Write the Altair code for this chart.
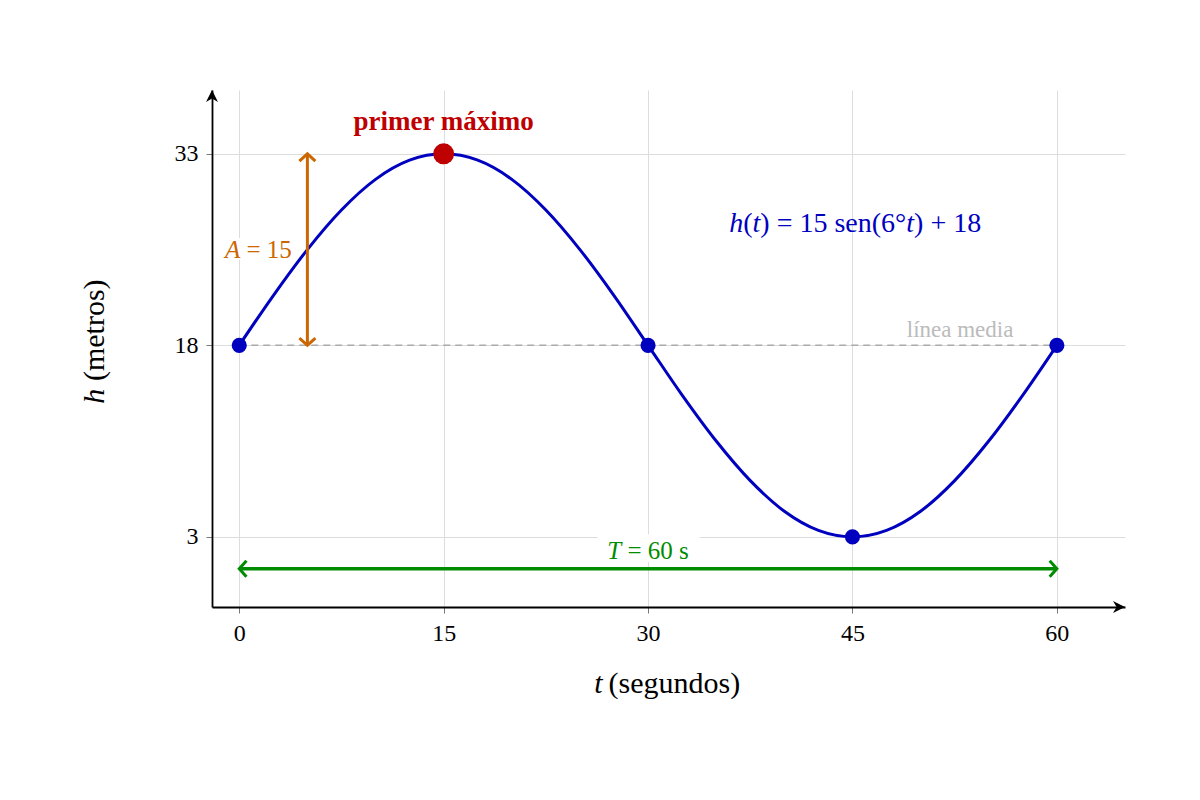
import pandas as pd
import altair as alt

# values
t_curve = [0, 2.5, 5, 7.5, 10, 12.5, 15, 17.5, 20, 22.5, 25, 27.5, 30,
           32.5, 35, 37.5, 40, 42.5, 45, 47.5, 50, 52.5, 55, 57.5, 60]
h_curve = [18.0, 21.9, 25.5, 28.6, 31.0, 32.5, 33.0, 32.5, 31.0, 28.6, 25.5, 21.9, 18.0,
           14.1, 10.5, 7.4, 5.0, 3.5, 3.0, 3.5, 5.0, 7.4, 10.5, 14.1, 18.0]
key_t = [0, 30, 45, 60]
key_h = [18, 18, 3, 18]
max_t = [15]
max_h = [33]
midline_h = 18
amp_t = 5          # where the amplitude arrow stands
period_h = 0.5     # height of the period arrow
x_ticks = [0, 15, 30, 45, 60]
y_ticks = [3, 18, 33]

FONT = "Liberation Serif"
BLUE = "#0000BF"
RED = "#BF0000"
ORANGE = "#CC6600"
GREEN = "#008C00"
PX = 913 / 67   # pixels per second on the x axis

xs = alt.Scale(domain=[-2, 65], nice=False, zero=False)
ys = alt.Scale(domain=[-2.5, 38], nice=False, zero=False)

x_axis = alt.Axis(values=x_ticks, format="d", title=None, grid=True, gridColor="#DDDDDD",
                  domainColor="black", domainWidth=1.8, tickColor="#777777", tickSize=6,
                  labelFont=FONT, labelFontSize=24, labelColor="black", labelPadding=8)
y_axis = alt.Axis(values=y_ticks, format="d", title=None, grid=True, gridColor="#DDDDDD",
                  domainColor="black", domainWidth=1.8, tickColor="#777777", tickSize=6,
                  labelFont=FONT, labelFontSize=24, labelColor="black", labelPadding=8)


def X(f):
    return alt.X(f"{f}:Q", scale=xs, axis=x_axis)


def Y(f):
    return alt.Y(f"{f}:Q", scale=ys, axis=y_axis)


curve_df = pd.DataFrame({"t": t_curve, "h": h_curve})
key_df = pd.DataFrame({"t": key_t, "h": key_h})
max_df = pd.DataFrame({"t": max_t, "h": max_h})

# white boxes behind labels
boxes = alt.Chart(pd.DataFrame({
    "x": [-1.4, 26.3], "x2": [4.4, 33.8], "y": [24.7, 1.0], "y2": [26.4, 3.2]
})).mark_rect(color="white").encode(x=X("x"), x2="x2", y=Y("y"), y2="y2")

midline = alt.Chart(pd.DataFrame({"t": [0], "t2": [60], "h": [midline_h]})).mark_rule(
    color="#AAAAAA", strokeWidth=1.5, strokeDash=[7, 5]
).encode(x=X("t"), x2="t2", y=Y("h"))

curve = alt.Chart(curve_df).mark_line(color=BLUE, strokeWidth=3, interpolate="monotone").encode(
    x=X("t"), y=Y("h"))

dots = alt.Chart(key_df).mark_circle(color=BLUE, size=230, opacity=1).encode(x=X("t"), y=Y("h"))
top_dot = alt.Chart(max_df).mark_circle(color=RED, size=440, opacity=1).encode(x=X("t"), y=Y("h"))

# amplitude arrow
amp = alt.Chart(pd.DataFrame({"t": [amp_t], "h": [midline_h], "h2": [max_h[0]]})).mark_rule(
    color=ORANGE, strokeWidth=3).encode(x=X("t"), y=Y("h"), y2="h2")
amp_up = alt.Chart(pd.DataFrame({"t": [amp_t], "h": [max_h[0]]})).mark_point(
    shape="M-1,0.9L0,0L1,0.9", filled=False, color=ORANGE, strokeWidth=3, size=256, opacity=1
).encode(x=X("t"), y=Y("h"))
amp_dn = alt.Chart(pd.DataFrame({"t": [amp_t], "h": [midline_h]})).mark_point(
    shape="M-1,-0.9L0,0L1,-0.9", filled=False, color=ORANGE, strokeWidth=3, size=256, opacity=1
).encode(x=X("t"), y=Y("h"))

# period arrow
per = alt.Chart(pd.DataFrame({"t": [0], "t2": [60], "h": [period_h]})).mark_rule(
    color=GREEN, strokeWidth=3.5).encode(x=X("t"), x2="t2", y=Y("h"))
per_r = alt.Chart(pd.DataFrame({"t": [60], "h": [period_h]})).mark_point(
    shape="M-0.9,-1L0,0L-0.9,1", filled=False, color=GREEN, strokeWidth=3, size=256, opacity=1
).encode(x=X("t"), y=Y("h"))
per_l = alt.Chart(pd.DataFrame({"t": [0], "h": [period_h]})).mark_point(
    shape="M0.9,-1L0,0L0.9,1", filled=False, color=GREEN, strokeWidth=3, size=256, opacity=1
).encode(x=X("t"), y=Y("h"))

# axis arrow tips
ax_r = alt.Chart(pd.DataFrame({"t": [65], "h": [-2.5]})).mark_point(
    shape="M0,0L-1,-0.5L-0.7,0L-1,0.5Z", filled=True, color="black", size=576, opacity=1
).encode(x=X("t"), y=Y("h"))
ax_u = alt.Chart(pd.DataFrame({"t": [-2], "h": [38]})).mark_point(
    shape="M0,0L0.5,1L0,0.7L-0.5,1Z", filled=True, color="black", size=576, opacity=1
).encode(x=X("t"), y=Y("h"))


def label(text, t, h, color, size, align="center", weight="normal", style="normal", angle=0):
    return alt.Chart(pd.DataFrame({"t": [t], "h": [h], "s": [text]})).mark_text(
        font=FONT, fontSize=size, color=color, align=align, baseline="middle",
        fontWeight=weight, fontStyle=style, angle=angle
    ).encode(x=X("t"), y=Y("h"), text="s:N")


# Times-compatible advance widths (em) for the math labels
ROMAN_W = {"(": .333, ")": .333, "=": .564, "+": .564, " ": .25, "s": .389, "e": .444,
           "n": .5, "°": .4}
ITALIC_W = {"h": .5, "t": .278, "A": .611, "T": .556}


def seg_width(text, italic):
    table = ITALIC_W if italic else ROMAN_W
    return sum(table.get(c, .5) for c in text)


def math_label(segments, center_t, h, color, size):
    total = sum(seg_width(s, it) for s, it in segments) * size
    x = center_t * PX - total / 2
    layers = []
    for s, it in segments:
        layers.append(label(s.strip(), x / PX + (0.25 * size / PX if s.startswith(" ") else 0),
                            h, color, size, align="left",
                            style="italic" if it else "normal"))
        x += seg_width(s, it) * size
    return layers


texts = [
    label("primer máximo", 15, 35.5, RED, 27, weight="bold"),
    *math_label([("h", True), ("(", False), ("t", True), (") = 15 sen(6°", False),
                 ("t", True), (") + 18", False)], 45.2, 27.5, BLUE, 28),
    label("línea media", 52.9, 19.2, "#BBBBBB", 23),
    *math_label([("A", True), (" = 15", False)], 1.4, 25.5, ORANGE, 25),
    *math_label([("T", True), (" = 60 s", False)], 30, 1.9, GREEN, 25),
    label("t", 26.67, -8.5, "black", 30, align="right", style="italic"),
    label("(segundos)", 27.1, -8.5, "black", 30, align="left"),
    label("(metros)", -10.55, 15.2, "black", 30, align="left", angle=270),
    label("h", -10.55, 14.6, "black", 30, align="right", style="italic", angle=270),
]

chart = alt.layer(
    boxes, midline, curve, amp, amp_up, amp_dn, per, per_r, per_l,
    dots, top_dot, ax_r, ax_u, *texts
).properties(
    width=913, height=517,
    autosize=alt.AutoSizeParams(type="none"),
    padding={"left": 204, "top": 82, "right": 60, "bottom": 150},
).configure_view(stroke=None)

chart.save("out.html", embed_options={"renderer": "svg", "actions": False})
